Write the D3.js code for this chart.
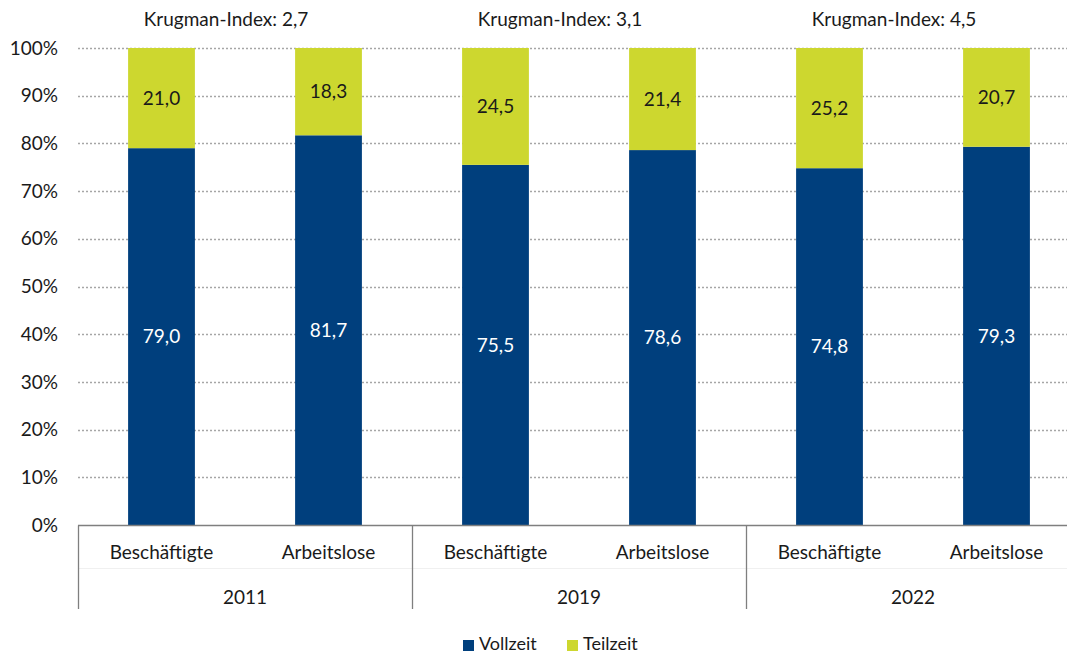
<!DOCTYPE html>
<html>
<head>
<meta charset="utf-8">
<script src="https://cdn.jsdelivr.net/npm/d3@7"></script>
<style>
  body { margin: 0; background: #fff; }
  text { font-family: Lato, "Open Sans", sans-serif; fill: #1a1a1a; font-size: 19px; }
</style>
</head>
<body>
<div id="chart"></div>
<script>
// data
var years = ["2011", "2019", "2022"];
var groups = ["Beschäftigte", "Arbeitslose"];
var krugman = ["2,7", "3,1", "4,5"];
var vollzeit = [79.0, 81.7, 75.5, 78.6, 74.8, 79.3];
var teilzeit = [21.0, 18.3, 24.5, 21.4, 25.2, 20.7];
var yTicks = [0, 10, 20, 30, 40, 50, 60, 70, 80, 90, 100];

var W = 1067, H = 657;
var m = {top: 48, left: 78, bottom: 132};
var plotW = 1002, plotH = H - m.top - m.bottom;

var svg = d3.select("#chart").append("svg")
    .attr("width", W).attr("height", H);

var cats = [];
years.forEach(function(y) { groups.forEach(function(g) { cats.push(y + "|" + g); }); });

var x = d3.scaleBand().domain(cats).range([m.left, m.left + plotW])
    .paddingInner(0.6).paddingOuter(0.3);
var y = d3.scaleLinear().domain([0, 100]).range([m.top + plotH, m.top]);

// gridlines
svg.append("g").selectAll("line").data(yTicks.slice(1)).join("line")
    .attr("x1", m.left).attr("x2", W)
    .attr("y1", function(d) { return Math.round(y(d)) + 0.5; })
    .attr("y2", function(d) { return Math.round(y(d)) + 0.5; })
    .attr("stroke", "#a6a6a6").attr("stroke-width", 1.3)
    .attr("stroke-dasharray", "2,2");

// y tick labels
svg.append("g").selectAll("text").data(yTicks).join("text")
    .attr("x", 58).attr("y", function(d) { return y(d); })
    .attr("dy", "0.35em").attr("text-anchor", "end")
    .text(function(d) { return d + "%"; });

// bars
var bars = svg.append("g");
bars.selectAll("rect.v").data(vollzeit).join("rect")
    .attr("x", function(d, i) { return x(cats[i]); })
    .attr("width", x.bandwidth())
    .attr("y", function(d) { return y(d); })
    .attr("height", function(d) { return y(0) - y(d); })
    .attr("fill", "#003f7d");
bars.selectAll("rect.t").data(teilzeit).join("rect")
    .attr("class", "t")
    .attr("x", function(d, i) { return x(cats[i]); })
    .attr("width", x.bandwidth())
    .attr("y", function(d, i) { return y(vollzeit[i] + d); })
    .attr("height", function(d) { return y(0) - y(d); })
    .attr("fill", "#cdd72f");

function fmt(v) { return v.toFixed(1).replace(".", ","); }

// value labels
svg.append("g").selectAll("text").data(vollzeit).join("text")
    .attr("x", function(d, i) { return x(cats[i]) + x.bandwidth() / 2; })
    .attr("y", function(d) { return y(d / 2); })
    .attr("dy", "0.35em").attr("text-anchor", "middle")
    .style("fill", "#fff")
    .text(fmt);
svg.append("g").selectAll("text").data(teilzeit).join("text")
    .attr("x", function(d, i) { return x(cats[i]) + x.bandwidth() / 2; })
    .attr("y", function(d, i) { return y(vollzeit[i] + d / 2); })
    .attr("dy", "0.35em").attr("text-anchor", "middle")
    .text(fmt);

// category axis
var axisY = Math.round(y(0)) + 0.5;
svg.append("line").attr("x1", m.left).attr("x2", W)
    .attr("y1", axisY).attr("y2", axisY)
    .attr("stroke", "#7f7f7f").attr("stroke-width", 1.3);
svg.append("line").attr("x1", m.left).attr("x2", W)
    .attr("y1", 568.5).attr("y2", 568.5)
    .attr("stroke", "#f0f0f0").attr("stroke-width", 1);

var groupW = plotW / years.length;
var seps = d3.range(years.length).map(function(i) { return m.left + i * groupW; });
svg.append("g").selectAll("line").data(seps).join("line")
    .attr("x1", function(d) { return Math.round(d) + 0.5; })
    .attr("x2", function(d) { return Math.round(d) + 0.5; })
    .attr("y1", axisY).attr("y2", 609)
    .attr("stroke", "#7f7f7f").attr("stroke-width", 1.3);

svg.append("g").selectAll("text").data(cats).join("text")
    .attr("x", function(d) { return x(d) + x.bandwidth() / 2; })
    .attr("y", 552).attr("dy", "0.35em").attr("text-anchor", "middle")
    .text(function(d) { return d.split("|")[1]; });

svg.append("g").selectAll("text").data(years).join("text")
    .attr("x", function(d, i) { return m.left + (i + 0.5) * groupW; })
    .attr("y", 597).attr("dy", "0.35em").attr("text-anchor", "middle")
    .text(function(d) { return d; });

// Krugman labels
svg.append("g").selectAll("text").data(krugman).join("text")
    .attr("x", function(d, i) { return m.left + (i + 0.5) * groupW - 19; })
    .attr("y", 19).attr("dy", "0.35em").attr("text-anchor", "middle")
    .text(function(d) { return "Krugman-Index: " + d; });

// legend
var legend = [{name: "Vollzeit", color: "#003f7d", x: 463}, {name: "Teilzeit", color: "#cdd72f", x: 567}];
var lg = svg.append("g").selectAll("g").data(legend).join("g")
    .attr("transform", function(d) { return "translate(" + d.x + ",644)"; });
lg.append("rect").attr("x", 0).attr("y", -4).attr("width", 11).attr("height", 11)
    .attr("fill", function(d) { return d.color; });
lg.append("text").attr("x", 16).attr("y", 0).attr("dy", "0.35em")
    .style("font-size", "18px")
    .text(function(d) { return d.name; });
</script>
</body>
</html>
